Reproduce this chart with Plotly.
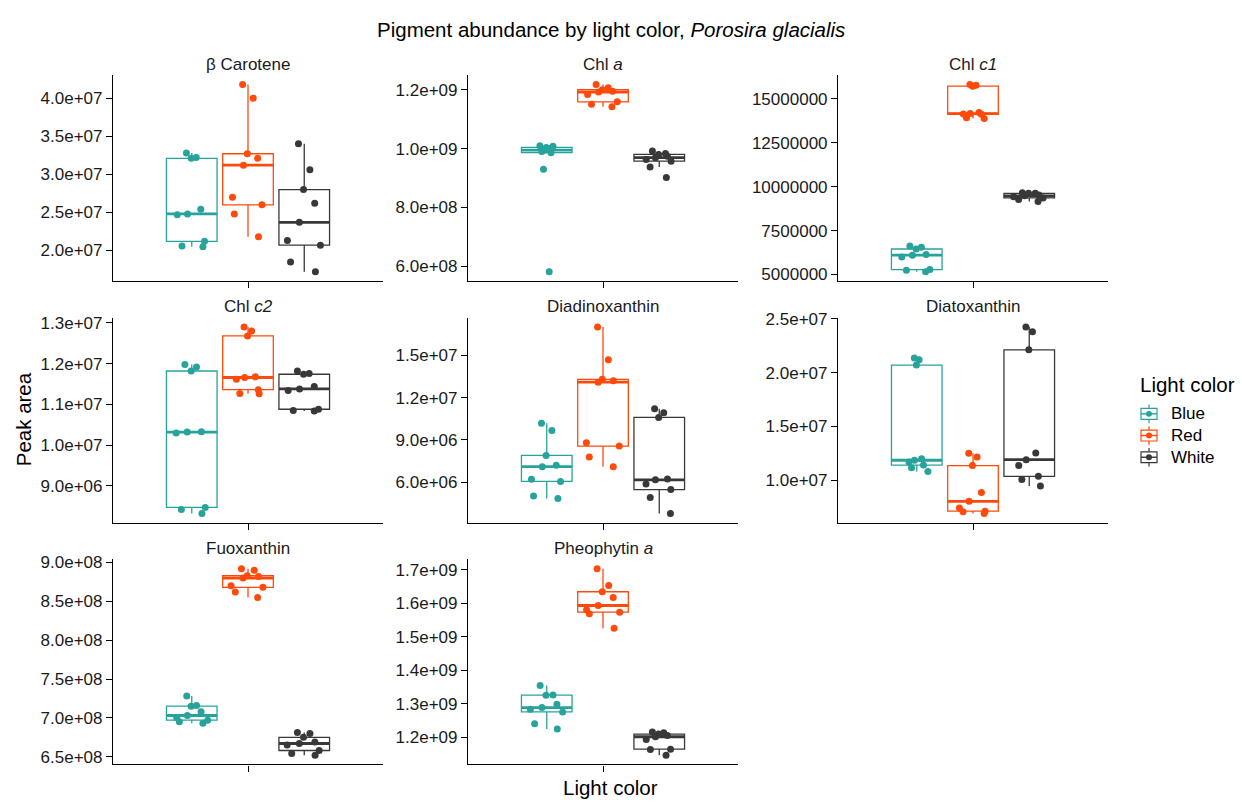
import numpy as np
import plotly.graph_objects as go

W, H = 1242, 802

# ---------------- data ----------------
light_colors = ["Blue", "Red", "White"]

panel_titles = ["β Carotene", "Chl <i>a</i>", "Chl <i>c1</i>",
                "Chl <i>c2</i>", "Diadinoxanthin", "Diatoxanthin",
                "Fuoxanthin", "Pheophytin <i>a</i>"]

beta_carotene_blue = [2.05e7, 2.06e7, 2.12e7, 2.47e7, 2.48e7, 2.54e7, 3.21e7, 3.22e7, 3.28e7]
beta_carotene_red = [2.18e7, 2.48e7, 2.60e7, 2.70e7, 3.12e7, 3.21e7, 3.27e7, 4.00e7, 4.18e7]
beta_carotene_white = [1.72e7, 1.85e7, 2.07e7, 2.13e7, 2.37e7, 2.62e7, 2.80e7, 3.06e7, 3.40e7]

chl_a_blue = [5.81e8, 9.30e8, 9.86e8, 9.90e8, 9.95e8, 1.000e9, 1.004e9, 1.008e9, 1.010e9]
chl_a_red = [1.142e9, 1.151e9, 1.159e9, 1.184e9, 1.192e9, 1.195e9, 1.200e9, 1.207e9, 1.218e9]
chl_a_white = [9.02e8, 9.37e8, 9.57e8, 9.63e8, 9.69e8, 9.74e8, 9.80e8, 9.83e8, 9.92e8]

chl_c1_blue = [5.15e6, 5.24e6, 5.28e6, 6.00e6, 6.10e6, 6.14e6, 6.45e6, 6.55e6, 6.62e6]
chl_c1_red = [1.388e7, 1.393e7, 1.412e7, 1.414e7, 1.416e7, 1.422e7, 1.572e7, 1.578e7, 1.582e7]
chl_c1_white = [9.16e6, 9.27e6, 9.36e6, 9.43e6, 9.48e6, 9.53e6, 9.62e6, 9.63e6, 9.66e6]

chl_c2_blue = [8.32e6, 8.42e6, 8.47e6, 1.030e7, 1.032e7, 1.033e7, 1.182e7, 1.192e7, 1.198e7]
chl_c2_red = [1.126e7, 1.127e7, 1.136e7, 1.162e7, 1.166e7, 1.168e7, 1.268e7, 1.280e7, 1.290e7]
chl_c2_white = [1.084e7, 1.085e7, 1.088e7, 1.134e7, 1.138e7, 1.144e7, 1.174e7, 1.176e7, 1.182e7]

diadino_blue = [4.84e6, 5.02e6, 6.05e6, 6.20e6, 7.10e6, 7.20e6, 7.90e6, 9.67e6, 1.019e7]
diadino_red = [7.09e6, 7.79e6, 8.56e6, 8.79e6, 1.310e7, 1.321e7, 1.330e7, 1.470e7, 1.702e7]
diadino_white = [3.77e6, 4.91e6, 5.47e6, 5.86e6, 6.16e6, 6.23e6, 1.060e7, 1.093e7, 1.121e7]

diato_blue = [1.080e7, 1.115e7, 1.140e7, 1.170e7, 1.185e7, 1.200e7, 2.070e7, 2.120e7, 2.135e7]
diato_red = [6.90e6, 7.06e6, 7.12e6, 7.42e6, 8.03e6, 8.85e6, 1.136e7, 1.215e7, 1.250e7]
diato_white = [9.45e6, 1.006e7, 1.036e7, 1.136e7, 1.191e7, 1.252e7, 2.212e7, 2.379e7, 2.424e7]

fuco_blue = [6.93e8, 6.95e8, 6.97e8, 7.00e8, 7.03e8, 7.08e8, 7.15e8, 7.16e8, 7.28e8]
fuco_red = [8.55e8, 8.62e8, 8.68e8, 8.70e8, 8.80e8, 8.82e8, 8.83e8, 8.90e8, 8.92e8]
fuco_white = [6.52e8, 6.54e8, 6.58e8, 6.65e8, 6.67e8, 6.69e8, 6.75e8, 6.80e8, 6.81e8]

pheo_blue = [1.224e9, 1.240e9, 1.275e9, 1.283e9, 1.288e9, 1.298e9, 1.325e9, 1.326e9, 1.354e9]
pheo_red = [1.525e9, 1.568e9, 1.573e9, 1.580e9, 1.593e9, 1.617e9, 1.634e9, 1.653e9, 1.703e9]
pheo_white = [1.146e9, 1.163e9, 1.164e9, 1.193e9, 1.201e9, 1.205e9, 1.209e9, 1.213e9, 1.215e9]

panel_values = [
    (beta_carotene_blue, beta_carotene_red, beta_carotene_white),
    (chl_a_blue, chl_a_red, chl_a_white),
    (chl_c1_blue, chl_c1_red, chl_c1_white),
    (chl_c2_blue, chl_c2_red, chl_c2_white),
    (diadino_blue, diadino_red, diadino_white),
    (diato_blue, diato_red, diato_white),
    (fuco_blue, fuco_red, fuco_white),
    (pheo_blue, pheo_red, pheo_white),
]

tick_vals = [
    [2.0e7, 2.5e7, 3.0e7, 3.5e7, 4.0e7],
    [6.0e8, 8.0e8, 1.0e9, 1.2e9],
    [5000000, 7500000, 10000000, 12500000, 15000000],
    [9.0e6, 1.0e7, 1.1e7, 1.2e7, 1.3e7],
    [6.0e6, 9.0e6, 1.2e7, 1.5e7],
    [1.0e7, 1.5e7, 2.0e7, 2.5e7],
    [6.5e8, 7.0e8, 7.5e8, 8.0e8, 8.5e8, 9.0e8],
    [1.2e9, 1.3e9, 1.4e9, 1.5e9, 1.6e9, 1.7e9],
]
tick_text = [
    ["2.0e+07", "2.5e+07", "3.0e+07", "3.5e+07", "4.0e+07"],
    ["6.0e+08", "8.0e+08", "1.0e+09", "1.2e+09"],
    ["5000000", "7500000", "10000000", "12500000", "15000000"],
    ["9.0e+06", "1.0e+07", "1.1e+07", "1.2e+07", "1.3e+07"],
    ["6.0e+06", "9.0e+06", "1.2e+07", "1.5e+07"],
    ["1.0e+07", "1.5e+07", "2.0e+07", "2.5e+07"],
    ["6.5e+08", "7.0e+08", "7.5e+08", "8.0e+08", "8.5e+08", "9.0e+08"],
    ["1.2e+09", "1.3e+09", "1.4e+09", "1.5e+09", "1.6e+09", "1.7e+09"],
]

# ---------------- style ----------------
colors = ["#27A39C", "#FF4A0B", "#383838"]
dodge = [-0.25, 0.0, 0.25]
box_w = 0.225
FONT = "Liberation Sans, Helvetica, Arial, sans-serif"
col_px = [(113, 383), (468, 738), (838, 1108)]
row_px = [(68, 277), (314, 522), (559, 767)]

fig = go.Figure()
shapes = []
annotations = []
axes = {}

for k in range(8):
    r, c = divmod(k, 3)
    sfx = "" if k == 0 else str(k + 1)
    xa, ya = "x" + sfx, "y" + sfx
    allv = np.concatenate([np.asarray(v) for v in panel_values[k]])
    lo, hi = allv.min(), allv.max()
    pad = 0.05 * (hi - lo)
    for g in range(3):
        vals = panel_values[k][g]
        pos = 1 + dodge[g]
        fig.add_trace(go.Box(
            x=[pos] * len(vals), y=vals, xaxis=xa, yaxis=ya,
            name=light_colors[g], showlegend=False,
            boxpoints="all", jitter=0.85, pointpos=0,
            quartilemethod="inclusive",
            width=box_w, whiskerwidth=0,
            line=dict(color=colors[g], width=1.3),
            fillcolor="rgba(255,255,255,0)",
            marker=dict(color=colors[g], size=7, opacity=1),
        ))
        med = float(np.median(vals))
        shapes.append(dict(type="line", xref=xa, yref=ya,
                           x0=pos - box_w / 2, x1=pos + box_w / 2,
                           y0=med, y1=med, layer="below",
                           line=dict(color=colors[g], width=2.8)))
    x0, x1 = col_px[c]
    y0, y1 = row_px[r]
    axes["xaxis" + sfx] = dict(
        domain=[x0 / W, x1 / W], anchor=ya, range=[0.4, 1.6],
        tickvals=[1], ticktext=[""], ticks="outside", ticklen=6,
        tickcolor="black", tickwidth=1.1,
        showline=True, linecolor="black", linewidth=1.1,
        showgrid=False, zeroline=False)
    axes["yaxis" + sfx] = dict(
        domain=[1 - y1 / H, 1 - y0 / H], anchor=xa,
        range=[lo - pad, hi + pad],
        tickvals=tick_vals[k], ticktext=tick_text[k],
        ticks="outside", ticklen=6, tickcolor="black", tickwidth=1.1,
        tickfont=dict(size=17, color="#1a1a1a", family=FONT),
        showline=True, linecolor="black", linewidth=1.1,
        showgrid=False, zeroline=False)
    annotations.append(dict(
        text=panel_titles[k], xref="paper", yref="paper",
        x=(x0 + x1) / 2 / W, y=1 - (y0 - 11) / H,
        xanchor="center", yanchor="middle", showarrow=False,
        font=dict(size=17, color="#1a1a1a", family=FONT)))

annotations += [
    dict(text="Pigment abundance by light color, <i>Porosira glacialis</i>",
         xref="paper", yref="paper", x=611 / W, y=1 - 22 / H,
         xanchor="center", yanchor="middle", showarrow=False,
         font=dict(size=20.5, color="black", family=FONT)),
    dict(text="Light color", xref="paper", yref="paper",
         x=610.5 / W, y=1 - 790 / H, xanchor="center", yanchor="middle",
         showarrow=False, font=dict(size=20.5, color="black", family=FONT)),
    dict(text="Peak area", xref="paper", yref="paper",
         x=23 / W, y=1 - 417 / H, xanchor="center", yanchor="middle",
         textangle=-90, showarrow=False,
         font=dict(size=20.5, color="black", family=FONT)),
    dict(text="Light color", xref="paper", yref="paper",
         x=1138 / W, y=1 - 382 / H, xanchor="left", yanchor="middle",
         showarrow=False, font=dict(size=20.5, color="black", family=FONT)),
]

# manual legend (box + whisker + point keys)
leg_y = [411.5, 433.5, 455.5]
key_x = 1149
for g in range(3):
    yy = leg_y[g]
    shapes.append(dict(type="line", xref="paper", yref="paper",
                       x0=key_x / W, x1=key_x / W,
                       y0=1 - (yy - 9.5) / H, y1=1 - (yy + 9.5) / H,
                       line=dict(color=colors[g], width=1.2)))
    shapes.append(dict(type="rect", xref="paper", yref="paper",
                       x0=(key_x - 8) / W, x1=(key_x + 8) / W,
                       y0=1 - (yy - 5.5) / H, y1=1 - (yy + 5.5) / H,
                       fillcolor="white", line=dict(color=colors[g], width=1.2)))
    shapes.append(dict(type="line", xref="paper", yref="paper",
                       x0=(key_x - 8) / W, x1=(key_x + 8) / W,
                       y0=1 - yy / H, y1=1 - yy / H,
                       line=dict(color=colors[g], width=1.4)))
    shapes.append(dict(type="circle", xref="paper", yref="paper",
                       x0=(key_x - 3) / W, x1=(key_x + 3) / W,
                       y0=1 - (yy - 3) / H, y1=1 - (yy + 3) / H,
                       fillcolor=colors[g], line=dict(color=colors[g], width=0)))
    annotations.append(dict(text=light_colors[g], xref="paper", yref="paper",
                            x=1169 / W, y=1 - yy / H, xanchor="left",
                            yanchor="middle", showarrow=False,
                            font=dict(size=17, color="black", family=FONT)))

fig.update_layout(
    width=W, height=H,
    margin=dict(l=0, r=0, t=0, b=0),
    paper_bgcolor="white", plot_bgcolor="white",
    font=dict(family=FONT, color="black"),
    boxmode="overlay", showlegend=False,
    shapes=shapes, annotations=annotations,
    **axes,
)

fig.write_html("out.html",
               config={"displayModeBar": False},
               post_script="document.body.style.margin='0px';")
